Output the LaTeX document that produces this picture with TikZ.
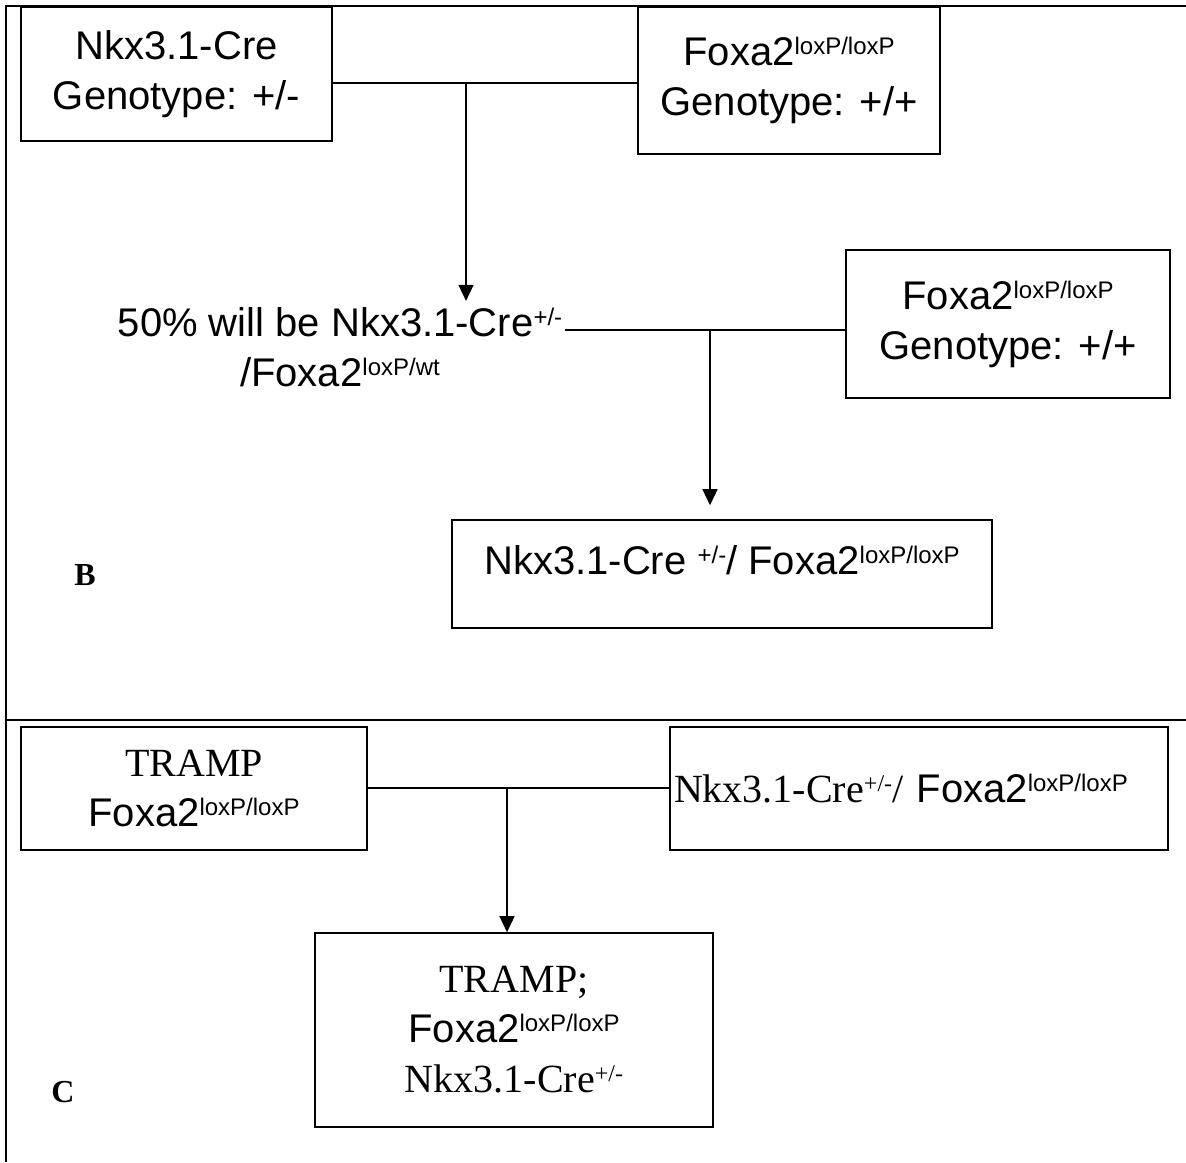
\documentclass[tikz,border=0pt]{standalone}
\usepackage{fontspec}
\setmainfont{Liberation Serif}
\setsansfont{Liberation Sans}
\usetikzlibrary{arrows.meta}
\newcommand{\allele}[1]{\raisebox{5.5pt}{\fontsize{12}{12}\selectfont #1}}

\begin{document}
\begin{tikzpicture}[
    x=0.5pt, y=-0.5pt,
    font=\sffamily\fontsize{20}{25}\selectfont,
    mouse/.style={draw, line width=0.8pt, align=center, inner sep=2pt},
    panel/.style={font=\rmfamily\bfseries\fontsize{16}{18}\selectfont},
    frame/.style={line width=1pt},
    link/.style={line width=0.7pt},
    arrow/.style={link, -{Triangle[length=8pt, width=7.5pt]}}
]
\useasboundingbox (0,0) rectangle (1186,1162);

% table frame
\draw[frame] (6,1162) -- (6,6) -- (1186,6);
\draw[frame] (6,720) -- (1186,720);

% panel B
\node[mouse, minimum width=155.5pt, minimum height=67pt] (nkx) at (176.5,74) {Nkx3.1-Cre\\Genotype: +/-};
\node[mouse, minimum width=151pt, minimum height=73.5pt] (foxa) at (789,80.5) {Foxa2\allele{loxP/loxP}\\Genotype: +/+};
\node[align=center, inner sep=1pt] (half) at (340,347) {50\% will be Nkx3.1-Cre\allele{+/-}\\/Foxa2\allele{loxP/wt}};
\node[mouse, minimum width=162pt, minimum height=74pt] (foxb) at (1008,324) {Foxa2\allele{loxP/loxP}\\Genotype: +/+};
\node[mouse, minimum width=270pt, minimum height=54pt, text depth=14pt] (cond) at (722,574) {Nkx3.1-Cre \allele{+/-}/ Foxa2\allele{loxP/loxP}};
\node[panel] (labelB) at (85,575) {B};

\coordinate (j1) at (466,83);
\coordinate (j2) at (710,330);
\draw[link] (j1 -| nkx.east) -- (j1 -| foxa.west);
\draw[arrow, shorten >=2pt] (j1) -- (j1 |- half.north);
\draw[link] (j2 -| half.east) -- (j2 -| foxb.west);
\draw[arrow, shorten >=7pt] (j2) -- (j2 |- cond.north);

% panel C
\node[mouse, minimum width=173pt, minimum height=61.5pt] (tramp) at (194,788.5) {\rmfamily TRAMP\\Foxa2\allele{loxP/loxP}};
\node[mouse, minimum width=249pt, minimum height=61.5pt, text width=245pt, align=left] (male) at (919,788.5) {{\rmfamily Nkx3.1-Cre\allele{+/-}/ }Foxa2\allele{loxP/loxP}};
\node[mouse, minimum width=199pt, minimum height=97pt] (pup) at (514,1030) {{\rmfamily TRAMP;}\\Foxa2\allele{loxP/loxP}\\{\rmfamily Nkx3.1-Cre\allele{+/-}}};
\node[panel] (labelC) at (63,1092) {C};

\coordinate (j3) at (507,788);
\draw[link] (j3 -| tramp.east) -- (j3 -| male.west);
\draw[arrow] (j3) -- (j3 |- pup.north);
\end{tikzpicture}
\end{document}
